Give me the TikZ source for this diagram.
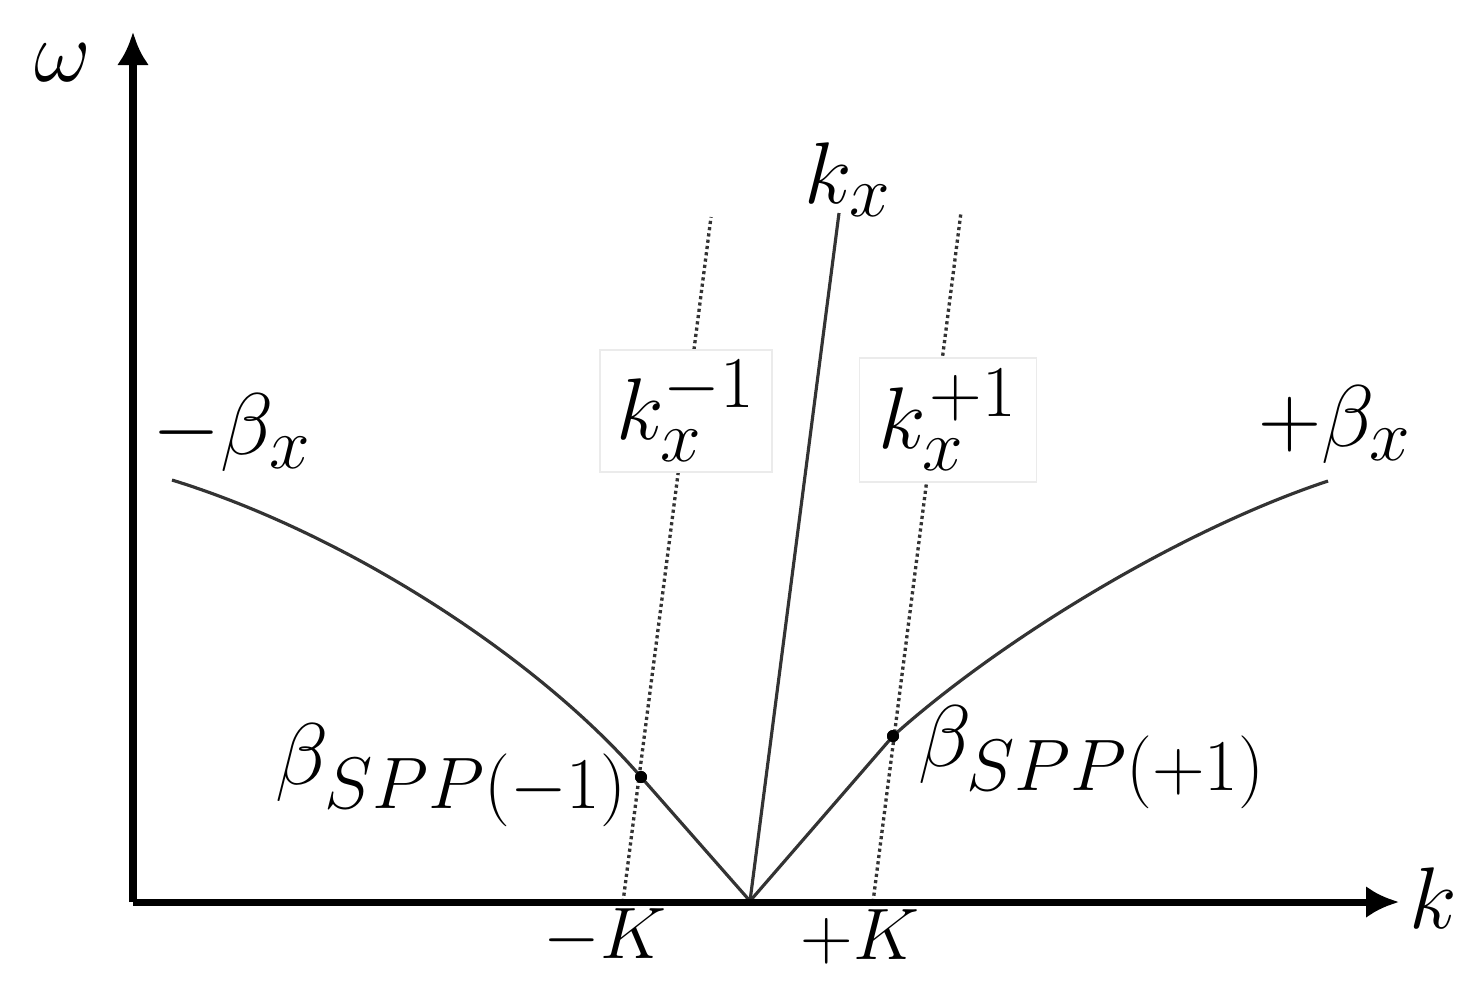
\documentclass[tikz,border=0pt]{standalone}
\usetikzlibrary{arrows.meta}
\begin{document}
\begin{tikzpicture}[x=0.01cm,y=-0.01cm,
  axis/.style={line width=2pt,-{Latex[length=0.33cm,width=0.32cm]}},
  curve/.style={line width=0.9pt,black!80},
  dotline/.style={line width=0.95pt,black!80,dash pattern=on 0.9pt off 0.9pt},
  dotn/.style={circle,fill=black,inner sep=0pt,minimum size=0.12cm},
  big/.style={font=\fontsize{31}{36}\selectfont,inner sep=0pt},
  small/.style={font=\fontsize{21}{25}\selectfont,inner sep=0pt},
  lbox/.style={draw=black!8,line width=0.4pt,fill=white,inner sep=0pt,font=\fontsize{31}{36}\selectfont}]
\useasboundingbox (0,0) rectangle (1477,993);
\coordinate (corner) at (133,902);
\coordinate (yend) at (133,32);
\coordinate (xend) at (1399,902);
\coordinate (O) at (750,901);
\coordinate (kxtop) at (839,213);
\coordinate (mKb) at (623,902);
\coordinate (mKt) at (711,217);
\coordinate (pKb) at (873,902);
\coordinate (pKt) at (961,212);
\coordinate (lstart) at (172,480);
\coordinate (rend) at (1328,481);
% dots
\node[dotn] (d1) at (641,777) {};
\node[dotn] (d2) at (893,736) {};
% dotted lines
\draw[dotline] (mKb) -- (mKt);
\draw[dotline] (pKb) -- (pKt);
% curves
\draw[curve] (lstart) .. controls (350,535) and (540,660) .. (d1.center) -- (O);
\draw[curve] (O) -- (d2.center) .. controls (1000,640) and (1180,530) .. (rend);
\draw[curve] (O) -- (kxtop);
% axes
\draw[axis] (corner) -- (yend);
\draw[axis] (corner) -- (xend);
% dots on top
\fill (d1) circle (0.06cm);
\fill (d2) circle (0.06cm);
% label boxes
\node[lbox,minimum width=1.72cm,minimum height=1.22cm] (km) at (686,411) {$k_x^{-1}$};
\node[lbox,minimum width=1.77cm,minimum height=1.24cm] (kp) at (948,420) {$k_x^{\mkern1mu+1}$};
% labels
\node[big] (om) at (63,63) {$\omega$};
\node[big] (kl) at (1433,898) {$k$};
\node[big] (kx) at (848,180) {$k_x$};
\node[big] (mb) at (232,433) {$-\beta_x$};
\node[big] (pb) at (1335,425) {$+\beta_x$};
\node[big] (bm) at (452,775) {$\beta_{SPP(-1)}$};
\node[big] (bp) at (1092,757) {$\beta_{SPP(+1)}$};
\node[small] (mK) at (605,937) {$-K$};
\node[small] (pK) at (860,937) {$+K$};
\end{tikzpicture}
\end{document}
